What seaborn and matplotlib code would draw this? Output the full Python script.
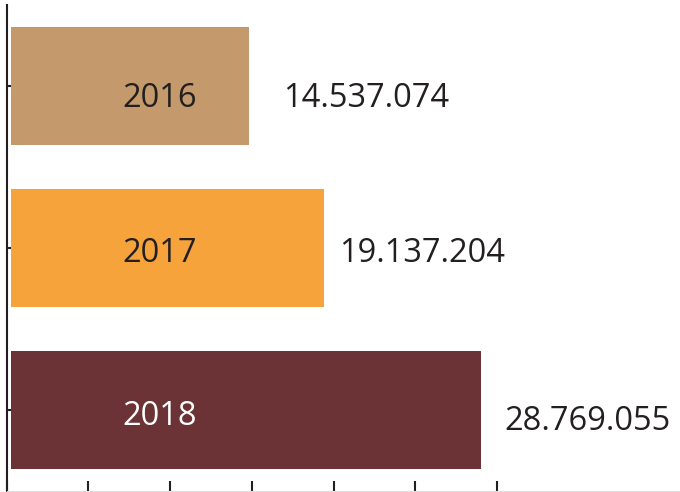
import matplotlib
matplotlib.use("Agg")
import matplotlib.pyplot as plt
import matplotlib.transforms as mtransforms
import numpy as np
import pandas as pd
import seaborn as sns

# Data
years = ["2016", "2017", "2018"]
values = [14537074, 19137204, 28769055]
value_labels = ["14.537.074", "19.137.204", "28.769.055"]
bar_colors = ["#C49A6C", "#F6A33B", "#6B3335"]
year_text_colors = ["#231F20", "#231F20", "#FFFFFF"]

# Label placement tweaks (pixels)
value_gap_px = [34, 15, 23]
year_dy_px = [8, 1.5, 2]
value_dy_px = [8, 1.5, 7]

df = pd.DataFrame({"year": years, "value": values})

sns.set_theme(style="white")
plt.rcParams["font.family"] = ["Open Sans", "DejaVu Sans"]

DPI = 100
W, H = 680, 492
fig = plt.figure(figsize=(W / DPI, H / DPI), dpi=DPI)
ax = fig.add_axes([6.5 / W, 1 / H, (W - 6.5) / W, 486 / H])

sns.barplot(data=df, x="value", y="year", hue="year", palette=bar_colors,
            width=0.73, legend=False, saturation=1, linewidth=0,
            ax=ax, orient="h")

px_per_unit = 16.35 / 1e6
xmin = -4.5 / px_per_unit
xmax = xmin + (W - 6.5) / px_per_unit
ax.set_xlim(xmin, xmax)
ax.set_ylim(2.5, -0.5)

# Unlabelled ticks every 5 million starting at the left spine
step = 5e6
ax.set_xticks([xmin + step * k for k in range(7)])
ax.set_xticklabels([])
ax.set_yticks(range(len(years)))
ax.set_yticklabels([])
ax.set_xlabel("")
ax.set_ylabel("")

dark = "#231F20"
for s in ["top", "right"]:
    ax.spines[s].set_visible(False)
ax.spines["left"].set_color(dark)
ax.spines["left"].set_linewidth(1.5)
ax.spines["bottom"].set_color("#DDDDDD")
ax.spines["bottom"].set_linewidth(0.8)
ax.tick_params(axis="y", direction="in", length=3.6, width=1.5, color=dark, left=True)
ax.tick_params(axis="x", direction="in", length=7.2, width=1.5, color=dark, bottom=True)

fs = 23.5
blend = mtransforms.blended_transform_factory(ax.transAxes, ax.transData)
for i, (yr, v, lab) in enumerate(zip(years, values, value_labels)):
    ax.annotate(yr, xy=(0.228, i), xycoords=blend,
                xytext=(0, -year_dy_px[i] * 72 / DPI), textcoords="offset points",
                ha="center", va="center_baseline", fontsize=fs,
                color=year_text_colors[i])
    ax.annotate(lab, xy=(v, i), xycoords="data",
                xytext=(value_gap_px[i] * 72 / DPI, -value_dy_px[i] * 72 / DPI),
                textcoords="offset points",
                ha="left", va="center_baseline", fontsize=fs, color=dark)

fig.savefig("out.png", dpi=DPI)
